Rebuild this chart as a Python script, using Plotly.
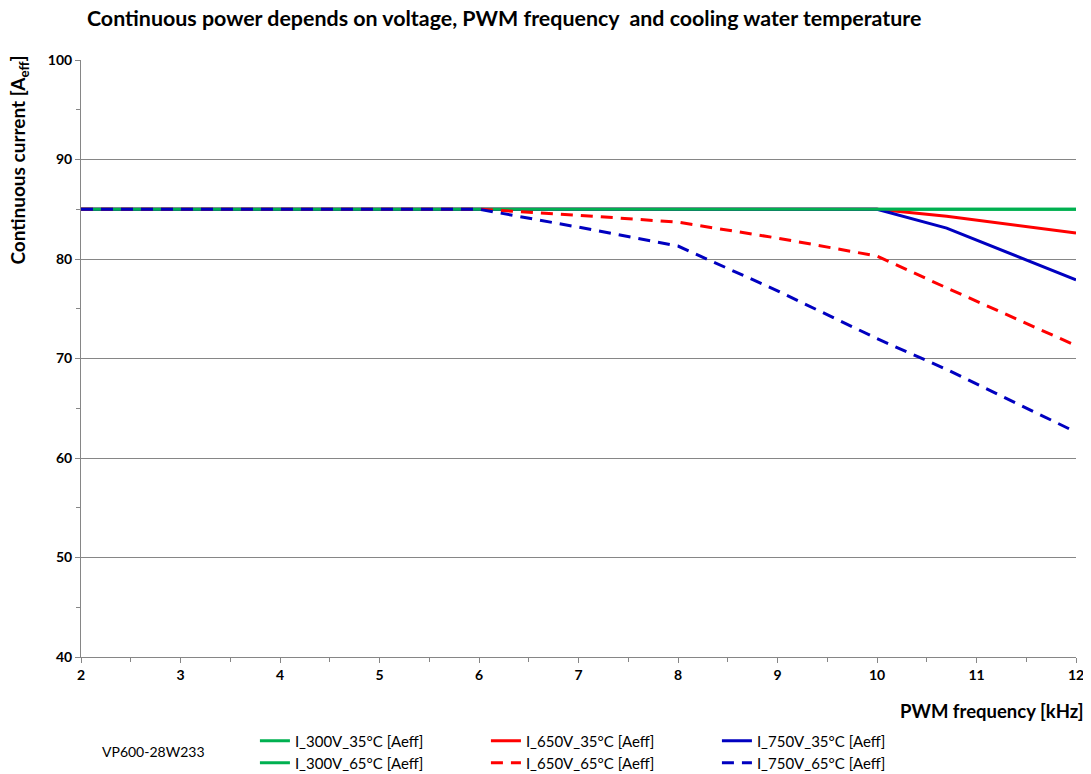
import plotly.graph_objects as go

freq = [2, 3, 4, 5, 6, 7, 8, 9, 10, 10.7, 12]
i_300v_35 = [85, 85, 85, 85, 85, 85, 85, 85, 85, 85, 85]
i_650v_35 = [85, 85, 85, 85, 85, 85, 85, 85, 85, 84.3, 82.6]
i_750v_35 = [85, 85, 85, 85, 85, 85, 85, 85, 85, 83.1, 77.9]
i_300v_65 = [85, 85, 85, 85, 85, 85, 85, 85, 85, 85, 85]
i_650v_65 = [85, 85, 85, 85, 85, 84.4, 83.7, 82.1, 80.3, 77.1, 71.3]
i_750v_65 = [85, 85, 85, 85, 85, 83.2, 81.3, 76.8, 72.0, 68.9, 62.6]

names = ["I_300V_35°C [Aeff]", "I_650V_35°C [Aeff]", "I_750V_35°C [Aeff]",
         "I_300V_65°C [Aeff]", "I_650V_65°C [Aeff]", "I_750V_65°C [Aeff]"]
series = [i_300v_35, i_650v_35, i_750v_35, i_300v_65, i_650v_65, i_750v_65]
colors = ["#00B050", "#FF0000", "#0000C0", "#00B050", "#FF0000", "#0000C0"]
dashes = ["solid", "solid", "solid", "solid", "12px,8px", "12px,8px"]
legends = ["legend", "legend", "legend", "legend2", "legend2", "legend2"]

FONT = "Lato, Carlito, Calibri, sans-serif"

fig = go.Figure()
for i in range(6):
    fig.add_trace(go.Scatter(
        x=freq, y=series[i], name=names[i], mode="lines",
        line=dict(color=colors[i], width=3, dash=dashes[i]),
        legend=legends[i],
    ))

leg_common = dict(orientation="h", xref="container", yref="container",
                  x=0.228, xanchor="left", yanchor="middle",
                  entrywidth=186, entrywidthmode="pixels", traceorder="normal",
                  font=dict(size=15, family=FONT), bgcolor="rgba(0,0,0,0)",
                  itemwidth=30, tracegroupgap=0)

# page body has an 8px margin, so the figure is sized/offset accordingly
fig.update_layout(
    width=1083, height=766,
    margin=dict(l=73, r=15, t=52, b=117, autoexpand=False),
    plot_bgcolor="white", paper_bgcolor="white",
    font=dict(family=FONT, size=13, color="black"),
    title=dict(text="<b>Continuous power depends on voltage, PWM frequency  and cooling water temperature</b>",
               xref="container", yref="container",
               x=0.0729, xanchor="left", y=0.986, yanchor="middle",
               font=dict(size=21.4, family=FONT)),
    showlegend=True,
    legend=dict(y=0.0431, **leg_common),
    legend2=dict(y=0.0144, **leg_common),
)

fig.update_xaxes(range=[2, 12], dtick=1, tick0=2, showgrid=False, automargin=False,
                 showline=True, linecolor="#868686", linewidth=1,
                 ticks="outside", ticklen=5, tickcolor="#868686",
                 minor=dict(dtick=0.5, ticks="outside", ticklen=4, tickcolor="#868686", showgrid=False),
                 tickfont=dict(size=14, family=FONT, weight="bold"), zeroline=False)
fig.update_yaxes(range=[40, 100], dtick=10, showgrid=True, gridcolor="#868686", gridwidth=1,
                 automargin=False,
                 showline=True, linecolor="#868686", linewidth=1,
                 ticks="outside", ticklen=5, tickcolor="#868686",
                 minor=dict(dtick=5, ticks="outside", ticklen=4, tickcolor="#868686", showgrid=False),
                 tickfont=dict(size=14, family=FONT, weight="bold"), zeroline=False)

fig.add_annotation(text="<b>Continuous current [A<sub>eff</sub>]</b>", xref="paper", yref="paper",
                   x=-0.062, y=0.832, xanchor="center", yanchor="middle", textangle=-90,
                   showarrow=False, font=dict(size=19, family=FONT))
fig.add_annotation(text="<b>PWM frequency [kHz]</b>", xref="paper", yref="paper",
                   x=1.010, y=-0.09, xanchor="right", yanchor="middle", showarrow=False,
                   font=dict(size=18.5, family=FONT))
fig.add_annotation(text="VP600-28W233", xref="paper", yref="paper",
                   x=0.019, y=-0.159, xanchor="left", yanchor="middle", showarrow=False,
                   font=dict(size=14, family=FONT))

fig.write_html("out.html")
